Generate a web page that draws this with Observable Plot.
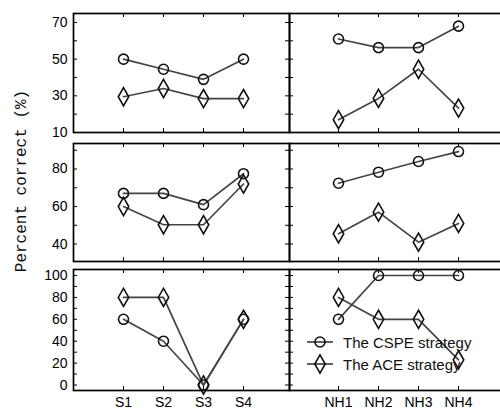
<!DOCTYPE html>
<html>
<head>
<meta charset="utf-8">
<script src="https://cdn.jsdelivr.net/npm/d3@7"></script>
<script src="https://cdn.jsdelivr.net/npm/@observablehq/plot@0.6"></script>
<style>
  html, body { margin: 0; padding: 0; background: #fff; }
  #chart { position: relative; width: 500px; height: 411px; overflow: hidden; background: #fff; }
  #chart svg { position: absolute; overflow: visible; }
  #ylabel { position: absolute; left: 22px; top: 181px; transform: translate(-50%, -50%) rotate(-90deg);
            font-family: "Liberation Mono", monospace; font-size: 16px; color: #111; white-space: nowrap; }
  #legend { position: absolute; left: 306px; top: 331px; font-family: "Liberation Sans", Arial, sans-serif;
            font-size: 15px; color: #111; }
  #legend div { display: flex; align-items: center; height: 22px; }
  #legend svg { position: static; margin-right: 9px; }
</style>
</head>
<body>
<div id="chart">
  <div id="ylabel">Percent correct (%)</div>
</div>
<script>
// Categories
const sCats = ["S1", "S2", "S3", "S4"];
const nhCats = ["NH1", "NH2", "NH3", "NH4"];
// Series names
const seriesNames = ["The CSPE strategy", "The ACE strategy"];

// Row 1 values
const row1S_CSPE = [50, 44.5, 39, 50];
const row1S_ACE = [29.5, 34, 28.5, 28.5];
const row1NH_CSPE = [61, 56.3, 56.3, 68];
const row1NH_ACE = [17, 28.6, 44.5, 23.3];
// Row 2 values
const row2S_CSPE = [67, 67, 61, 77.5];
const row2S_ACE = [60, 50.3, 50.3, 72];
const row2NH_CSPE = [72.4, 78.3, 84, 89.3];
const row2NH_ACE = [45.5, 57, 41, 51];
// Row 3 values
const row3S_CSPE = [60, 40, 0, 60];
const row3S_ACE = [80, 80, 0, 60];
const row3NH_CSPE = [60, 100, 100, 100];
const row3NH_ACE = [80, 60, 60, 23];

// Tick labels and minor ticks per row
const row1Labels = [10, 30, 50, 70];
const row1Ticks = [10, 20, 30, 40, 50, 60, 70];
const row2Labels = [40, 60, 80];
const row2Ticks = [40, 50, 60, 70, 80, 90];
const row3Labels = [0, 20, 40, 60, 80, 100];
const row3Ticks = [0, 10, 20, 30, 40, 50, 60, 70, 80, 90, 100];

const rows = [
  {S: [row1S_CSPE, row1S_ACE], NH: [row1NH_CSPE, row1NH_ACE], domain: [10, 74.9], labels: row1Labels, ticks: row1Ticks, top: 13, h: 119},
  {S: [row2S_CSPE, row2S_ACE], NH: [row2NH_CSPE, row2NH_ACE], domain: [30.7, 93.6], labels: row2Labels, ticks: row2Ticks, top: 143, h: 118},
  {S: [row3S_CSPE, row3S_ACE], NH: [row3NH_CSPE, row3NH_ACE], domain: [-5, 105.5], labels: row3Labels, ticks: row3Ticks, top: 269, h: 121}
];

const chart = document.getElementById("chart");
const M = 2;
const lineColor = "#444";
const markColor = "#111";

function panel(row, isLeft, isBottom) {
  const cats = isLeft ? sCats : nhCats;
  const [cspe, ace] = isLeft ? row.S : row.NH;
  const frameW = isLeft ? 216 : 217;
  const mL = isLeft ? 73 : M;
  const mB = isBottom ? M + 20 : M;
  const width = mL + frameW + M;
  const height = M + row.h + mB;
  const xRange = isLeft ? [mL + 29, mL + 190] : [mL + 28, mL + 190];
  const dCspe = cats.map((c, i) => ({cat: c, v: cspe[i]}));
  const dAce = cats.map((c, i) => ({cat: c, v: ace[i]}));
  const marks = [
    Plot.tickY(row.ticks, {y: d => d, stroke: "#000", strokeWidth: 1, insetRight: frameW - 4}),
    Plot.tickX(cats, {x: d => d, stroke: "#000", strokeWidth: 1, insetBottom: row.h - 4}),
    Plot.tickX(cats, {x: d => d, stroke: "#000", strokeWidth: 1, insetTop: row.h - 4}),
    Plot.line(dCspe, {x: "cat", y: "v", stroke: lineColor, strokeWidth: 1.7}),
    Plot.line(dAce, {x: "cat", y: "v", stroke: lineColor, strokeWidth: 1.7}),
    Plot.dot(dCspe, {x: "cat", y: "v", r: 5, stroke: markColor, strokeWidth: 1.6, fill: "none"}),
    Plot.dot(dAce, {x: "cat", y: "v", r: 5.5, symbol: "diamond", stroke: markColor, strokeWidth: 1.6, fill: "none"}),
    Plot.frame({stroke: "#000", strokeWidth: 1.7})
  ];
  if (isLeft) {
    marks.unshift(Plot.tickY(row.ticks, {y: d => d, stroke: "#000", strokeWidth: 1, insetLeft: frameW - 4}));
    marks.push(Plot.axisY(row.labels, {tickSize: 0, tickPadding: 6, fill: "#000", fontSize: 14, label: null}));
  }
  if (isBottom) {
    marks.push(Plot.axisX(cats, {tickSize: 0, tickPadding: 7, fill: "#000", fontSize: 14, label: null}));
  }
  const svg = Plot.plot({
    width, height,
    marginLeft: mL, marginRight: M, marginTop: M, marginBottom: mB,
    style: {fontFamily: "'Liberation Sans', Arial, sans-serif", fontSize: "14px", background: "transparent", overflow: "visible", color: "#000"},
    x: {type: "point", domain: cats, range: xRange, axis: null, label: null},
    y: {domain: row.domain, range: [M + row.h, M], axis: null, label: null},
    marks
  });
  svg.style.left = (isLeft ? 0 : 289 - M) + "px";
  svg.style.top = (row.top - M) + "px";
  chart.appendChild(svg);
}

rows.forEach((row, i) => {
  panel(row, true, i === 2);
  panel(row, false, i === 2);
});

// Legend
const legend = document.createElement("div");
legend.id = "legend";
const sym = [
  '<circle cx="14" cy="8" r="5" fill="none" stroke="' + markColor + '" stroke-width="1.6"/>',
  '<path d="' + d3.symbol(d3.symbolDiamond, Math.PI * 5.5 * 5.5)() + '" transform="translate(14,10)" fill="none" stroke="' + markColor + '" stroke-width="1.6"/>'
];
seriesNames.forEach((name, i) => {
  const row = document.createElement("div");
  const h = i === 0 ? 16 : 20;
  row.innerHTML = '<svg width="28" height="' + h + '"><line x1="1" x2="27" y1="' + (h/2) + '" y2="' + (h/2) + '" stroke="' + lineColor + '" stroke-width="1.7"/>' + sym[i] + '</svg><span>' + name + '</span>';
  legend.appendChild(row);
});
chart.appendChild(legend);
</script>
</body>
</html>
